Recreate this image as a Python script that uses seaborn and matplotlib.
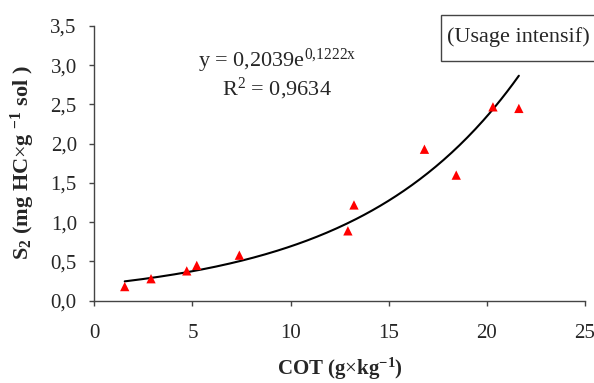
import numpy as np
import pandas as pd
import matplotlib
matplotlib.use("Agg")
import matplotlib.pyplot as plt
from matplotlib.patches import Rectangle
import seaborn as sns

# Data
cot = [1.55, 2.89, 4.71, 5.22, 7.39, 12.92, 13.23, 16.82, 18.44, 20.31, 21.63]
s2 = [0.18, 0.28, 0.38, 0.45, 0.58, 0.89, 1.22, 1.93, 1.60, 2.47, 2.45]
# Trendline coefficients as printed on the chart
coef_a = 0.2039
coef_b = 0.1222
x_ticks = [0, 5, 10, 15, 20, 25]
y_ticks = [0.0, 0.5, 1.0, 1.5, 2.0, 2.5, 3.0, 3.5]

sns.set_theme(style="white")
plt.rcParams['font.family'] = ['Liberation Serif', 'DejaVu Serif']
plt.rcParams['mathtext.fontset'] = 'custom'
plt.rcParams['mathtext.rm'] = 'Liberation Serif'
plt.rcParams['mathtext.it'] = 'Liberation Serif'
plt.rcParams['mathtext.bf'] = 'Liberation Serif:bold'

W, H = 594, 383
df = pd.DataFrame({"COT": cot, "S2": s2})
xf = np.linspace(min(cot), max(cot), 200)
fit = pd.DataFrame({"COT": xf, "S2": coef_a * np.exp(coef_b * xf)})

fig = plt.figure(figsize=(W / 100, H / 100), dpi=100)
ax_l, ax_r, ax_t, ax_b = 94.3, 585, 26, 300.7
ax = fig.add_axes([ax_l / W, 1 - ax_b / H, (ax_r - ax_l) / W, (ax_b - ax_t) / H])

sns.lineplot(data=fit, x="COT", y="S2", ax=ax, color="black", linewidth=1.5)
sns.scatterplot(data=df, x="COT", y="S2", ax=ax, marker="^", color="#ff0000",
                s=45, edgecolor="none", zorder=3)

ax.set_xlim(0, 25)
ax.set_ylim(0, 3.5)
ax.set_xticks(x_ticks)
ax.set_yticks(y_ticks)
ax.set_xticklabels([str(t) for t in x_ticks])
ax.set_yticklabels([f"{t:.1f}".replace(".", ",") for t in y_ticks])
ax.tick_params(axis="both", labelsize=15, length=3.6, width=1, color="#444444",
               direction="out", bottom=True, left=True)
ax.tick_params(axis="x", pad=13)
ax.tick_params(axis="y", pad=9)
for side in ["top", "right"]:
    ax.spines[side].set_visible(False)
for side in ["left", "bottom"]:
    ax.spines[side].set_color("#444444")
    ax.spines[side].set_linewidth(1)

ax.set_xlabel("")
ax.set_ylabel("")
fig.text((ax_l + ax_r) / 2 / W, 1 - 369 / H, r"COT (g$\times$kg$^{\mathbf{-1}}$)",
         ha="center", va="center", fontsize=15, fontweight="bold")
fig.text(23 / W, 1 - 163 / H, r"S$_{\mathbf{2}}$ (mg HC$\times$g $^{\mathbf{-1}}$ sol )",
         ha="center", va="center", rotation=90, fontsize=16, fontweight="bold")

ax.text(0.372, 0.851, r"y = 0,2039e$^{0{,}1222x}$", transform=ax.transAxes,
        ha="center", va="baseline", fontsize=16)
ax.text(0.372, 0.749, r"R$^2$ = 0,9634", transform=ax.transAxes,
        ha="center", va="baseline", fontsize=16)

fig.patches.append(Rectangle((441 / W, 1 - 61 / H), (W + 10 - 441) / W, 46 / H,
                             transform=fig.transFigure, facecolor="white",
                             edgecolor="#444444", linewidth=1, zorder=5))
fig.text(447 / W, 1 - 37 / H, "(Usage intensif)", ha="left", va="center",
         fontsize=16, zorder=6)

fig.savefig("out.png", dpi=100)
